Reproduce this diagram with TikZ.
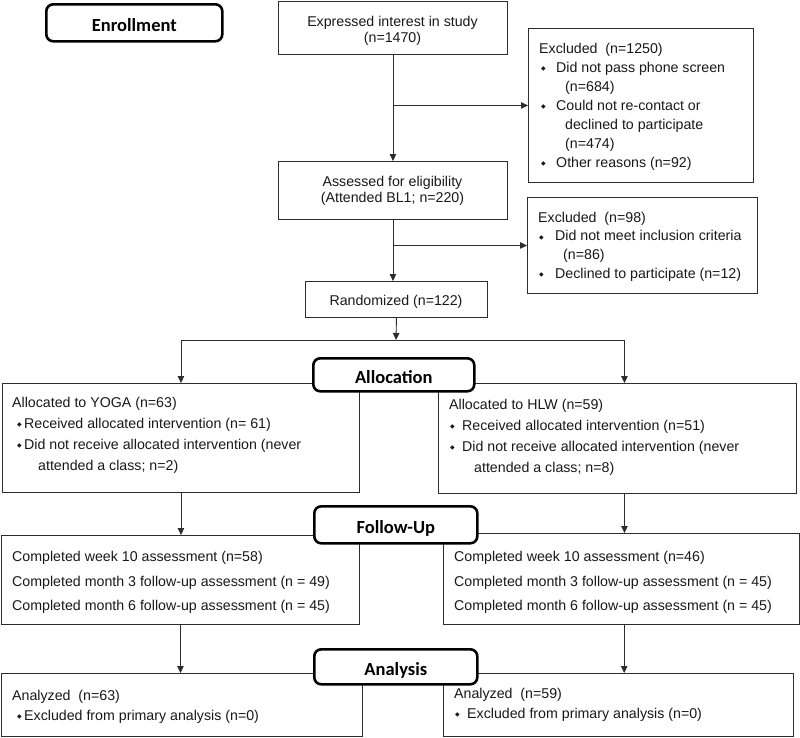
\documentclass[tikz,border=0pt]{standalone}
\usepackage{fontspec}
\setmainfont{Liberation Sans}
\newfontfamily\hdfont{Carlito}
\newfontfamily\dejavu{DejaVu Sans}
\usetikzlibrary{arrows.meta}
\definecolor{boxc}{RGB}{45,45,45}
\definecolor{txtc}{RGB}{25,25,25}
\newcommand\bulw[1]{\makebox[#1][l]{\raisebox{1.3pt}{\dejavu\fontsize{6}{6}\selectfont ◆}}}
\begin{document}
\begin{tikzpicture}[x=1pt,y=-1pt,
  box/.style={draw=boxc, line width=0.9pt, inner sep=0pt, anchor=north west, fill=white},
  hdr/.style={draw=black, line width=2.6pt, rounded corners=7pt, fill=white, anchor=north west, inner sep=0pt, font=\hdfont\bfseries\fontsize{18.5}{20}\selectfont, text height=18pt, text depth=0pt},
  txt/.style={anchor=base west, inner sep=0pt, font=\fontsize{14.2}{16}\selectfont, text=txtc},
  ctxt/.style={anchor=base, inner sep=0pt, font=\fontsize{14.2}{16}\selectfont, text=txtc},
  arr/.style={draw=boxc, line width=0.9pt, -{Triangle[length=7pt,width=6.5pt]}}
]
\useasboundingbox (0,0) rectangle (800,737);

% boxes
\node[box, minimum width=229pt, minimum height=53pt] (expr) at (278,1) {};
\node[box, minimum width=225pt, minimum height=154pt] (excl1) at (528,28) {};
\node[box, minimum width=229pt, minimum height=58pt] (assess) at (278,161) {};
\node[box, minimum width=230pt, minimum height=96pt] (excl2) at (527,197) {};
\node[box, minimum width=182pt, minimum height=36pt] (rand) at (305,281) {};
\node[box, minimum width=357pt, minimum height=109pt] (yoga) at (2,383) {};
\node[box, minimum width=358pt, minimum height=110pt] (hlw) at (438,383) {};
\node[box, minimum width=358pt, minimum height=89pt] (fuL) at (1,535) {};
\node[box, minimum width=355.5pt, minimum height=91pt] (fuR) at (443,533) {};
\node[box, minimum width=361pt, minimum height=63pt] (anL) at (1,673) {};
\node[box, minimum width=350pt, minimum height=63pt] (anR) at (443,673) {};

% connectors
\draw[arr] (expr.south) -- (assess.north);
\draw[arr] (expr.south |- excl1.west) -- (excl1.west);
\draw[arr] (assess.south) -- (assess.south |- rand.north);
\draw[arr] (assess.south |- excl2.west) -- (excl2.west);
\coordinate (split) at (396,340);
\draw[arr] (rand.south) -- (split);
\draw[arr] (split) -| (yoga.north);
\draw[arr] (split) -| ([xshift=7pt]hlw.north);
\draw[arr] (yoga.south) -- (yoga.south |- fuL.north);
\draw[arr] ([xshift=7pt]hlw.south) -- ([xshift=7pt]hlw.south |- fuR.north);
\draw[arr] (fuL.south) -- (fuL.south |- anL.north);
\draw[arr] ([xshift=3pt]fuR.south) -- ([xshift=3pt]fuR.south |- anR.north);

% headers
\node[hdr, minimum width=176pt, minimum height=37pt] (enroll) at (45,3) {Enrollment};
\node[hdr, minimum width=161pt, minimum height=33pt] (alloc) at (312,357) {Allocation};
\node[hdr, minimum width=163pt, minimum height=37pt] (fuH) at (313,505) {Follow-Up};
\node[hdr, minimum width=163pt, minimum height=35pt] (anH) at (313,648) {Analysis};

% texts
\node[ctxt] (t1) at (392.5,26) {Expressed interest in study};
\node[ctxt] (t2) at (392.5,42.5) {(n=1470)};

\node[txt] (e1) at (539,53) {Excluded\ \ (n=1250)};
\node[txt] (e2) at (541,72) {\bulw{15pt}Did not pass phone screen};
\node[txt] (e3) at (565,91) {(n=684)};
\node[txt] (e4) at (541,110) {\bulw{15pt}Could not re-contact or};
\node[txt] (e5) at (565,129) {declined to participate};
\node[txt] (e6) at (565,148) {(n=474)};
\node[txt] (e7) at (541,167) {\bulw{15pt}Other reasons (n=92)};

\node[ctxt] (a1) at (392.5,186) {Assessed for eligibility};
\node[ctxt] (a2) at (392.5,202) {(Attended BL1; n=220)};

\node[txt] (x1) at (538,222) {Excluded\ \ (n=98)};
\node[txt] (x2) at (539,240.7) {\bulw{16pt}Did not meet inclusion criteria};
\node[txt] (x3) at (563,259.3) {(n=86)};
\node[txt] (x4) at (539,278) {\bulw{16pt}Declined to participate (n=12)};

\node[ctxt] (r1) at (396,305) {Randomized (n=122)};

\node[txt] (y1) at (12,407) {Allocated to YOGA (n=63)};
\node[txt] (y2) at (17,428) {\bulw{7pt}Received allocated intervention (n= 61)};
\node[txt] (y3) at (17,449) {\bulw{7pt}Did not receive allocated intervention (never};
\node[txt] (y4) at (38,470) {attended a class; n=2)};

\node[txt] (h1) at (449,409) {Allocated to HLW (n=59)};
\node[txt] (h2) at (450,430) {\bulw{12pt}Received allocated intervention (n=51)};
\node[txt] (h3) at (450,451) {\bulw{12pt}Did not receive allocated intervention (never};
\node[txt] (h4) at (474,472) {attended a class; n=8)};

\node[txt] (f1) at (12,561) {Completed week 10 assessment (n=58)};
\node[txt] (f2) at (12,586) {Completed month 3 follow-up assessment (n = 49)};
\node[txt] (f3) at (12,610) {Completed month 6 follow-up assessment (n = 45)};

\node[txt] (g1) at (454,561) {Completed week 10 assessment (n=46)};
\node[txt] (g2) at (454,586) {Completed month 3 follow-up assessment (n = 45)};
\node[txt] (g3) at (454,610) {Completed month 6 follow-up assessment (n = 45)};

\node[txt] (l1) at (12,700) {Analyzed\ \ (n=63)};
\node[txt] (l2) at (17,720) {\bulw{7pt}Excluded from primary analysis (n=0)};

\node[txt] (m1) at (454,698) {Analyzed\ \ (n=59)};
\node[txt] (m2) at (455,718) {\bulw{12pt}Excluded from primary analysis (n=0)};
\end{tikzpicture}
\end{document}
